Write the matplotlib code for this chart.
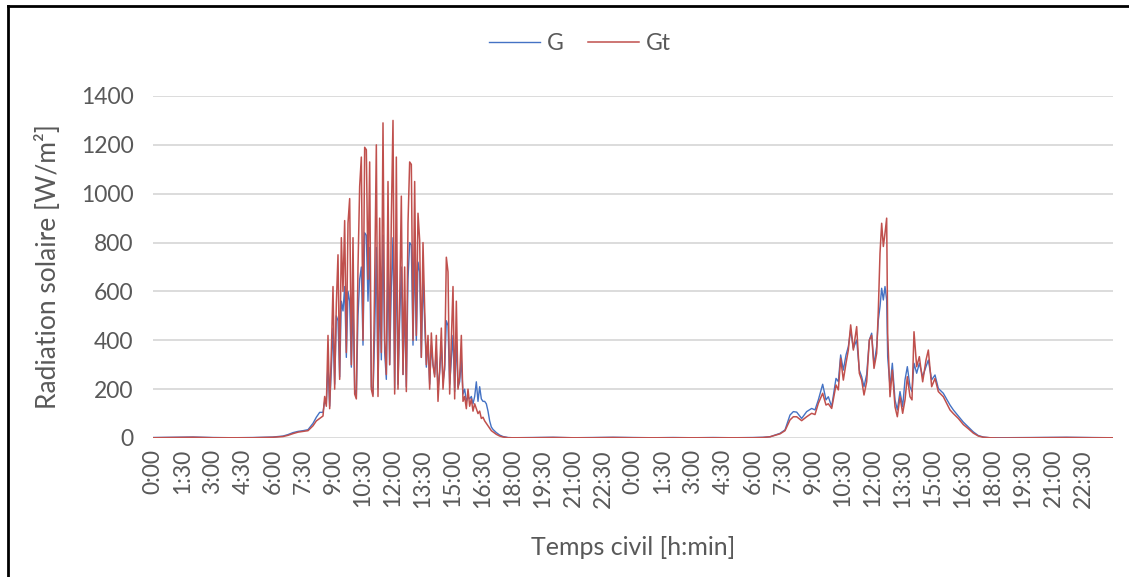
import numpy as np
import matplotlib.pyplot as plt
from matplotlib.lines import Line2D

plt.rcParams['font.family'] = ['Lato', 'DejaVu Sans']

# jour 1 : matin (minutes depuis 0:00)
t1_matin = [0, 60, 120, 180, 240, 300, 360, 390, 405, 420, 435, 450, 465, 480, 490, 500]
g1_matin = [2, 3, 4, 2, 1, 2, 4, 8, 14, 22, 27, 30, 34, 60, 85, 105]
gt1_matin = [1, 2, 3, 1, 1, 1, 3, 6, 11, 18, 24, 27, 30, 50, 70, 80]

# jour 1 : 8:30 -> 17:00, pas de 5 min
gt1_jour = [90, 170, 130, 420, 120, 350, 620, 200, 550, 750, 240, 820,
            600, 890, 350, 880, 980, 300, 820, 180, 160, 700, 1030, 1150,
            400, 1190, 1180, 650, 1130, 200, 170, 640, 1200, 170, 900, 350,
            1290, 400, 260, 1050, 300, 900, 1300, 180, 1150, 200, 560, 990,
            260, 700, 190, 880, 1130, 1120, 400, 1050, 420, 920, 810, 330,
            800, 530, 300, 420, 200, 430, 300, 250, 420, 150, 280, 450,
            200, 300, 740, 680, 180, 400, 620, 160, 560, 200, 250, 420,
            150, 170, 120, 200, 130, 160, 110, 140, 120, 100, 110, 80,
            85, 70, 60, 50, 40, 30, 25]
g1_jour = [105, 150, 140, 300, 130, 280, 450, 220, 500, 480, 250, 560,
           520, 620, 330, 600, 560, 290, 560, 200, 170, 500, 650, 700,
           380, 840, 830, 560, 780, 210, 180, 420, 780, 200, 600, 320,
           830, 350, 240, 700, 300, 620, 820, 200, 760, 220, 480, 700,
           260, 560, 210, 650, 800, 790, 380, 760, 400, 720, 680, 330,
           660, 470, 290, 400, 220, 380, 300, 260, 360, 200, 270, 380,
           230, 280, 480, 460, 220, 320, 420, 190, 400, 210, 230, 320,
           180, 200, 150, 170, 160, 170, 140, 170, 230, 150, 210, 160,
           150, 150, 140, 110, 70, 45, 35]
t1_jour = list(range(510, 1025, 5))

# jour 1 : soir
t1_soir = [1030, 1040, 1050, 1065, 1080, 1140, 1200, 1260, 1320, 1380, 1435]
g1_soir = [22, 12, 6, 2, 1, 2, 3, 1, 2, 3, 2]
gt1_soir = [15, 8, 4, 1, 1, 1, 2, 1, 1, 2, 1]

# jour 2
t2 = [0, 60, 120, 180, 240, 300, 360, 390, 411, 441,
      456, 471, 481, 491, 506, 521, 536, 546, 556, 569,
      579, 586, 596, 609, 616, 623, 631, 639, 646, 653,
      661, 671, 679, 686, 693, 701, 709, 716, 723, 731,
      736, 741, 746, 751, 756, 761, 764, 771, 778, 786,
      793, 801, 809, 816, 823, 831, 837, 843, 851, 859,
      869, 879, 886, 896, 906, 916, 931, 951, 961, 976,
      991, 1006, 1021, 1036, 1051, 1071, 1100, 1200, 1300, 1380,
      1439]
g2 = [2, 1, 2, 1, 2, 1, 2, 3, 5, 19,
      33, 94, 108, 106, 80, 108, 121, 115, 156, 220,
      156, 169, 128, 244, 231, 340, 278, 340, 374, 442,
      367, 401, 278, 251, 210, 260, 401, 429, 299, 374,
      483, 538, 613, 565, 620, 565, 333, 210, 306, 156,
      115, 190, 128, 238, 292, 210, 190, 306, 265, 306,
      251, 292, 319, 238, 258, 203, 183, 135, 115, 90,
      65, 45, 25, 10, 4, 1, 1, 2, 3, 2,
      1]
gt2 = [1, 1, 1, 1, 1, 1, 1, 2, 5, 17,
       30, 74, 87, 87, 71, 87, 101, 96, 142, 183,
       135, 140, 121, 217, 197, 326, 237, 306, 360, 463,
       360, 456, 265, 237, 176, 230, 401, 420, 285, 347,
       524, 756, 879, 784, 838, 900, 429, 169, 278, 128,
       87, 169, 101, 156, 251, 169, 156, 435, 292, 333,
       230, 319, 360, 210, 244, 190, 169, 115, 100, 80,
       55, 38, 20, 8, 3, 1, 0, 1, 2, 1,
       1]

heures = ['0:00', '1:30', '3:00', '4:30', '6:00', '7:30', '9:00', '10:30',
          '12:00', '13:30', '15:00', '16:30', '18:00', '19:30', '21:00', '22:30']

t = np.array(t1_matin + t1_jour + t1_soir + [1440 + m for m in t2])
G = np.array(g1_matin + g1_jour + g1_soir + g2)
Gt = np.array(gt1_matin + gt1_jour + gt1_soir + gt2)

gris = '#595959'
fig = plt.figure(figsize=(11.29, 5.77), dpi=100)
ax = fig.add_axes([153/1129, 139/577, 960/1129, 342/577])

ax.plot(t, G, color='#4472C4', lw=1.0, label='G', zorder=3)
ax.plot(t, Gt, color='#C0504D', lw=1.1, label='Gt', zorder=4)

ax.set_xlim(0, 2880)
ax.set_ylim(0, 1400)
ax.set_yticks(range(0, 1401, 200))
ax.set_xticks(range(0, 2880, 90))
ax.set_xticklabels(heures * 2, rotation=90, va='top')
ax.tick_params(length=0, labelsize=16.5, colors=gris)
ax.tick_params(axis='x', pad=8)
ax.tick_params(axis='y', pad=14)
ax.grid(axis='y', color='#d9d9d9', lw=1.3)
ax.set_axisbelow(True)
for s in ax.spines.values():
    s.set_visible(False)

ax.set_xlabel('Temps civil [h:min]', fontsize=18, color=gris, labelpad=20)
ax.set_ylabel('Radiation solaire [W/m²]', fontsize=19, color=gris, labelpad=14)

ax.legend(loc='center', bbox_to_anchor=((580 - 153)/960, 1.0 + (96 - 44)/342), ncol=2,
          frameon=False, fontsize=16.5, handlelength=2.2, columnspacing=1.1,
          handletextpad=0.3, labelcolor=gris)

# cadre
fig.add_artist(Line2D([8/1129, 8/1129], [0, 1 - 6/577], color='black', lw=2))
fig.add_artist(Line2D([8/1129, 1], [1 - 6/577, 1 - 6/577], color='black', lw=2))

fig.savefig('out.png', dpi=100)
